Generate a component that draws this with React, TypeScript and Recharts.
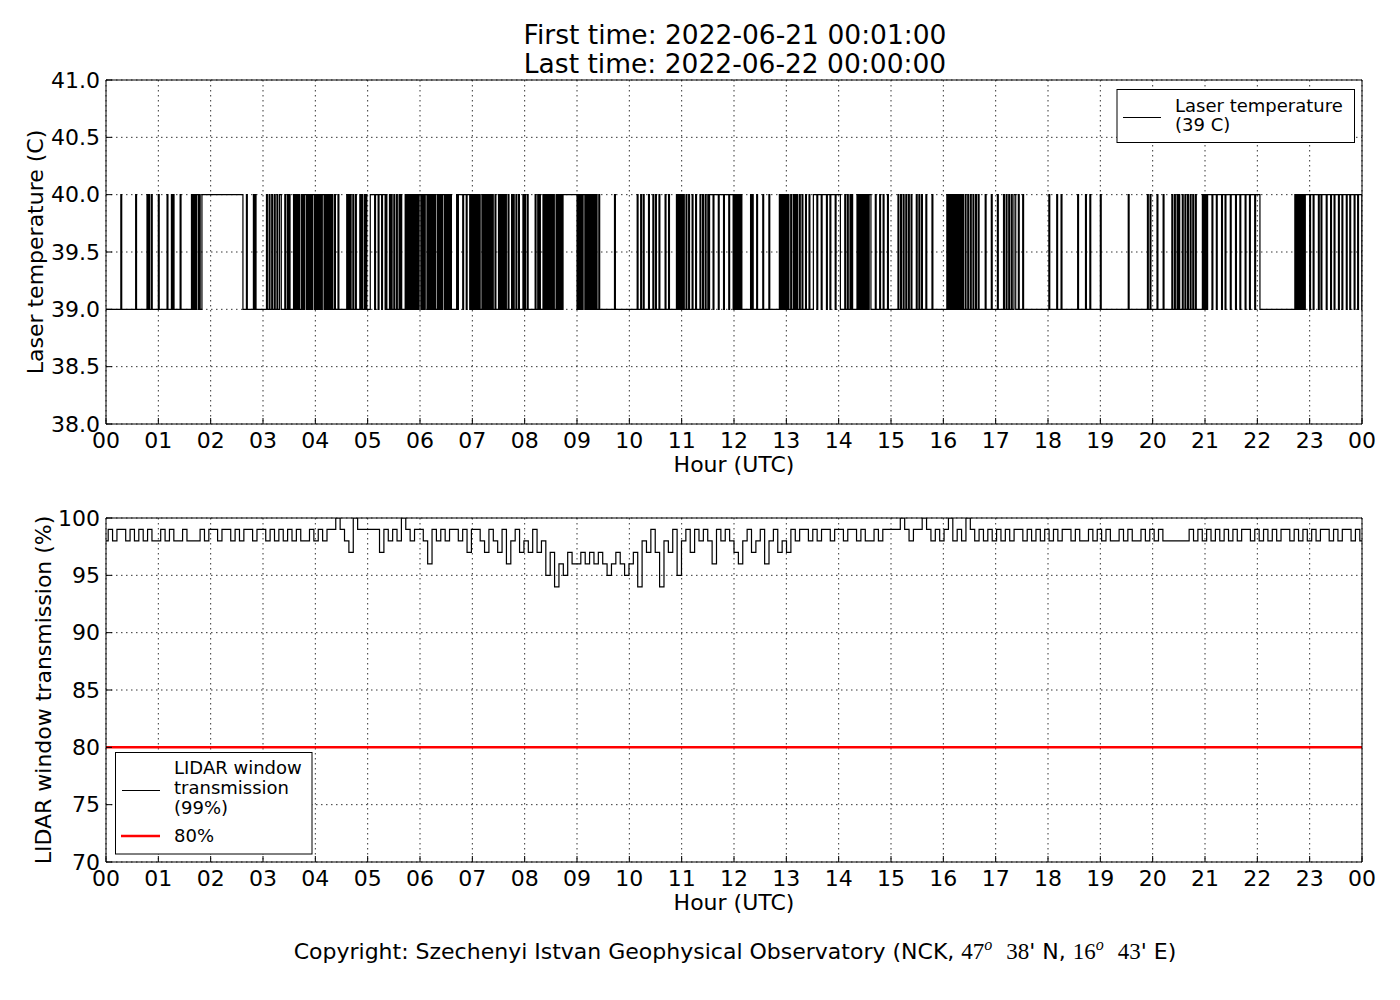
import React from 'react';
import { LineChart, Line, XAxis, YAxis, CartesianGrid, ReferenceLine } from 'recharts';

// ---------- data ----------
const HOUR_TICKS = [0, 1, 2, 3, 4, 5, 6, 7, 8, 9, 10, 11, 12, 13, 14, 15, 16, 17, 18, 19, 20, 21, 22, 23, 24];
const TEMP_TICKS = [38, 38.5, 39, 39.5, 40, 40.5, 41];
const TRANS_TICKS = [70, 75, 80, 85, 90, 95, 100];

const TEMP_LOW = 39;
const TEMP_HIGH = 40;
// periods (minutes after 00:00 UTC) where the laser temperature reads 40 C; otherwise 39 C
const TEMP_HIGH_MIN: [number, number][] = [
  [17, 18], [34, 35], [47, 48], [49, 50], [52, 53], [60, 61], [70, 71], [75, 76], [77, 78], [85, 86],
  [98, 99], [100, 101], [102, 103], [104, 106], [107, 108], [110, 157],
  [161, 162], [169, 170], [171, 172], [184, 185], [187, 188], [190, 191], [193, 194], [196, 197], [199, 201],
  [205, 206], [208, 209], [210, 211], [215, 216], [217, 218], [219, 220], [221, 222], [224, 225], [226, 227],
  [228, 230], [231, 232], [233, 234], [235, 236], [237, 239], [240, 241], [242, 243], [244, 245], [246, 247],
  [248, 250], [251, 252], [253, 254], [255, 256], [257, 258], [259, 260], [262, 263], [266, 267], [276, 277],
  [278, 279], [280, 281], [283, 284], [286, 287], [291, 292], [293, 294], [296, 297], [298, 299], [303, 308],
  [309, 312], [313, 316], [317, 320], [321, 322], [325, 326], [327, 328], [330, 331], [333, 334], [336, 337],
  [338, 339], [343, 344], [345, 346], [347, 348], [349, 350], [351, 352], [353, 354], [355, 356], [357, 358],
  [359, 361], [362, 363], [364, 365], [366, 368], [369, 370], [371, 372], [373, 374], [375, 376], [377, 378],
  [380, 381], [382, 383], [384, 385], [386, 388], [389, 390], [391, 392], [393, 394], [395, 396], [402, 403],
  [404, 409], [410, 413], [414, 417], [418, 419], [420, 421], [422, 423], [424, 425], [426, 427], [428, 429],
  [431, 432], [433, 434], [435, 436], [437, 438], [439, 440], [441, 442], [443, 444], [446, 447], [450, 451],
  [452, 453], [454, 455], [456, 457], [458, 459], [461, 462], [465, 466], [467, 468], [470, 471], [473, 474],
  [478, 479], [480, 481], [483, 484], [492, 493], [495, 496], [497, 498], [501, 502], [503, 504], [505, 506],
  [507, 508], [509, 510], [511, 512], [513, 514], [516, 517], [518, 519], [520, 521], [522, 523], [524, 540],
  [541, 542], [543, 544], [545, 546], [547, 549], [550, 551], [552, 553], [554, 555], [556, 557], [558, 559],
  [560, 561], [562, 563], [565, 566], [583, 584], [609, 610], [613, 614], [616, 617], [622, 623], [627, 628],
  [630, 631], [634, 635], [641, 642], [645, 646], [654, 655], [656, 657], [658, 659], [660, 661], [662, 663],
  [665, 666], [668, 669], [672, 673], [676, 677], [681, 682], [684, 685], [687, 688], [690, 691], [692, 696],
  [697, 702], [703, 708], [709, 714], [715, 719],
  [720, 721], [722, 723], [724, 725], [726, 727], [728, 729], [739, 740], [741, 742], [746, 747], [753, 754],
  [760, 761], [772, 773], [774, 775], [776, 777], [778, 779], [780, 781], [782, 783], [785, 786], [788, 789],
  [790, 791], [792, 793], [795, 796], [798, 799], [802, 803], [806, 807], [811, 815], [816, 820], [821, 826],
  [827, 830], [831, 836], [837, 842], [847, 848], [850, 851], [853, 854], [855, 856], [861, 862], [863, 864],
  [865, 866], [867, 868], [869, 870], [871, 872], [873, 874], [875, 877], [882, 883], [887, 888], [891, 892],
  [896, 897], [908, 909], [911, 912], [914, 915], [917, 918], [920, 921], [923, 924], [929, 930], [932, 933],
  [935, 936], [940, 941], [947, 948], [964, 965], [966, 967], [968, 969], [970, 971], [972, 973], [974, 975],
  [976, 977], [978, 979], [980, 981], [982, 983], [985, 986], [988, 989], [991, 992], [994, 995], [997, 998],
  [1000, 1001], [1008, 1009], [1015, 1016], [1022, 1023], [1029, 1030], [1032, 1033], [1035, 1036],
  [1038, 1039], [1041, 1043], [1046, 1047], [1051, 1052], [1081, 1082], [1090, 1091], [1095, 1096],
  [1114, 1115], [1123, 1124], [1128, 1129], [1140, 1141], [1172, 1173], [1194, 1195], [1197, 1198],
  [1205, 1206], [1212, 1213], [1222, 1223], [1225, 1226], [1228, 1229], [1230, 1231], [1234, 1235],
  [1237, 1238], [1240, 1241], [1243, 1244], [1246, 1247], [1249, 1250], [1257, 1258], [1259, 1260],
  [1261, 1262], [1263, 1268], [1269, 1273], [1274, 1279], [1280, 1283], [1284, 1289], [1290, 1295],
  [1296, 1300], [1301, 1306], [1307, 1311], [1312, 1317], [1318, 1323], [1363, 1364], [1365, 1366],
  [1367, 1368], [1369, 1370], [1371, 1372], [1373, 1374], [1375, 1380], [1381, 1384], [1385, 1390],
  [1391, 1393], [1394, 1399], [1400, 1404], [1405, 1408], [1409, 1413], [1414, 1417], [1418, 1422],
  [1423, 1426], [1427, 1431], [1432, 1435], [1436, 1440],
];

// LIDAR window transmission (%), one reading every 5 minutes, 00:00 -> 24:00
const TRANS_5MIN = [
  98, 99, 98, 99, 99, 98, 99, 98, 99, 98, 99, 98, // 00
  98, 99, 98, 99, 98, 98, 99, 98, 98, 98, 99, 98, // 01
  99, 99, 98, 99, 99, 98, 99, 98, 99, 99, 98, 99, // 02
  99, 98, 99, 98, 99, 98, 99, 98, 99, 98, 98, 99, // 03
  98, 99, 98, 99, 99, 100, 99, 98, 97, 100, 99, 99, // 04
  99, 99, 99, 97, 99, 98, 99, 98, 100, 99, 98, 99, // 05
  99, 98, 96, 99, 98, 99, 98, 99, 99, 98, 99, 97, // 06
  99, 99, 98, 97, 99, 98, 97, 99, 96, 98, 99, 97, // 07
  98, 97, 99, 97, 98, 95, 97, 94, 96, 95, 97, 96, // 08
  96, 97, 96, 97, 96, 97, 96, 95, 96, 97, 96, 95, // 09
  96, 97, 94, 98, 97, 99, 97, 94, 98, 97, 99, 95, // 10
  98, 99, 97, 99, 98, 99, 98, 96, 99, 98, 99, 98, // 11
  97, 96, 98, 99, 97, 98, 99, 96, 98, 99, 97, 98, // 12
  97, 99, 98, 99, 99, 98, 99, 98, 99, 99, 98, 99, // 13
  99, 98, 99, 99, 98, 99, 98, 98, 99, 98, 99, 99, // 14
  99, 99, 100, 99, 98, 99, 99, 100, 99, 98, 99, 98, // 15
  99, 100, 98, 99, 98, 100, 99, 98, 99, 98, 99, 98, // 16
  99, 98, 99, 98, 99, 99, 98, 99, 98, 99, 98, 99, // 17
  98, 99, 98, 99, 99, 98, 99, 98, 98, 99, 98, 99, // 18
  98, 99, 98, 98, 99, 98, 99, 98, 98, 99, 98, 99, // 19
  98, 99, 98, 98, 98, 98, 98, 98, 99, 98, 99, 98, // 20
  99, 98, 99, 98, 99, 98, 99, 98, 99, 99, 98, 99, // 21
  98, 99, 98, 99, 98, 99, 99, 98, 99, 98, 99, 98, // 22
  99, 98, 99, 99, 98, 99, 98, 99, 99, 98, 99, 98, // 23
];
const THRESHOLD = 80;

// ---------- build tables for the library ----------
const tempData: { t: number; v: number }[] = [{ t: 0, v: TEMP_LOW }];
for (const [s, e] of TEMP_HIGH_MIN) {
  tempData.push({ t: s / 60, v: TEMP_LOW }, { t: s / 60, v: TEMP_HIGH }, { t: e / 60, v: TEMP_HIGH }, { t: e / 60, v: TEMP_LOW });
}
const transData = TRANS_5MIN.map((v, i) => ({ t: (i * 24) / (TRANS_5MIN.length - 1), v }));

const FONT = "'DejaVu Sans', sans-serif";
const SERIF = "'Liberation Serif', serif";
const tickStyle = { fill: '#000', fontSize: 22, fontFamily: FONT };
const hourFmt = (v: number) => String(v % 24).padStart(2, '0');

function Panel({ data, domain, ticks, fmt, lineType, children }: any) {
  return (
    <LineChart width={1400} height={500} data={data} margin={{ top: 79, right: 37, left: 0, bottom: 0 }}>
      <CartesianGrid stroke="#000" strokeWidth={0.8} strokeDasharray="1.5 3.5" />
      <XAxis
        dataKey="t"
        type="number"
        domain={[0, 24]}
        ticks={HOUR_TICKS}
        interval={0}
        allowDataOverflow
        height={76}
        tickSize={-6}
        tickMargin={14}
        tickFormatter={hourFmt}
        tick={tickStyle}
        axisLine={{ stroke: '#000' }}
        tickLine={{ stroke: '#000' }}
      />
      <XAxis
        xAxisId="top"
        orientation="top"
        type="number"
        domain={[0, 24]}
        ticks={HOUR_TICKS}
        interval={0}
        allowDataOverflow
        height={1}
        tickSize={-6}
        tick={false}
        axisLine={{ stroke: '#000' }}
        tickLine={{ stroke: '#000' }}
      />
      <YAxis
        type="number"
        domain={domain}
        ticks={ticks}
        interval={0}
        allowDataOverflow
        width={106}
        tickSize={-6}
        tickMargin={12}
        tickFormatter={fmt}
        tick={tickStyle}
        axisLine={{ stroke: '#000' }}
        tickLine={{ stroke: '#000' }}
      />
      <YAxis
        yAxisId="right"
        orientation="right"
        type="number"
        domain={domain}
        ticks={ticks}
        interval={0}
        allowDataOverflow
        width={1}
        tickSize={-6}
        tick={false}
        axisLine={{ stroke: '#000' }}
        tickLine={{ stroke: '#000' }}
      />
      {children}
      <Line dataKey="v" type={lineType} stroke="#000" strokeWidth={1.2} dot={false} isAnimationActive={false} />
    </LineChart>
  );
}

export default function App() {
  return (
    <div style={{ position: 'absolute', left: 0, top: 0, width: 1400, height: 1000, background: '#fff', overflow: 'hidden' }}>
      <div style={{ position: 'absolute', left: 0, top: 0 }}>
        <Panel data={tempData} domain={[38, 41]} ticks={TEMP_TICKS} fmt={(v: number) => v.toFixed(1)} lineType="linear" />
      </div>
      <div style={{ position: 'absolute', left: 0, top: 438 }}>
        <Panel data={transData} domain={[70, 100]} ticks={TRANS_TICKS} fmt={(v: number) => String(v)} lineType="step">
          <ReferenceLine y={THRESHOLD} stroke="#ff0000" strokeWidth={2.5} ifOverflow="visible" />
        </Panel>
      </div>
      <svg width={1400} height={1000} style={{ position: 'absolute', left: 0, top: 0, pointerEvents: 'none' }} fontFamily={FONT}>
        <text x={735} y={44} textAnchor="middle" fontSize={26.5} fill="#000">First time: 2022-06-21 00:01:00</text>
        <text x={735} y={73} textAnchor="middle" fontSize={26.5} fill="#000">Last time: 2022-06-22 00:00:00</text>

        <text x={43} y={252} textAnchor="middle" fontSize={22} fill="#000" transform="rotate(-90 43 252)">Laser temperature (C)</text>
        <text x={734} y={472} textAnchor="middle" fontSize={22} fill="#000">Hour (UTC)</text>

        <text x={51} y={690} textAnchor="middle" fontSize={22} fill="#000" transform="rotate(-90 51 690)">LIDAR window transmission (%)</text>
        <text x={734} y={910} textAnchor="middle" fontSize={22} fill="#000">Hour (UTC)</text>

        {/* legend, top panel */}
        <rect x={1117} y={89.5} width={237.5} height={53} fill="#fff" stroke="#000" strokeWidth={1} />
        <line x1={1123} x2={1161} y1={117.5} y2={117.5} stroke="#000" strokeWidth={1} />
        <text x={1175} y={111.5} fontSize={18} fill="#000">Laser temperature</text>
        <text x={1175} y={131} fontSize={18} fill="#000">(39 C)</text>

        {/* legend, bottom panel */}
        <rect x={115.5} y={752.5} width={196.5} height={101.5} fill="#fff" stroke="#000" strokeWidth={1} />
        <line x1={122} x2={160} y1={790.5} y2={790.5} stroke="#000" strokeWidth={1} />
        <text x={174} y={773.5} fontSize={18} fill="#000">LIDAR window</text>
        <text x={174} y={794} fontSize={18} fill="#000">transmission</text>
        <text x={174} y={814} fontSize={18} fill="#000">(99%)</text>
        <line x1={121} x2={160} y1={836} y2={836} stroke="#ff0000" strokeWidth={2.5} />
        <text x={174} y={842} fontSize={18} fill="#000">80%</text>

        <text x={735} y={959} textAnchor="middle" fontSize={22} fill="#000">
          Copyright: Szechenyi Istvan Geophysical Observatory (NCK,
          <tspan fontFamily={SERIF} fontSize={23} dx={7}>47</tspan>
          <tspan fontFamily={SERIF} fontStyle="italic" fontSize={16} dy={-9}>o</tspan>
          <tspan fontFamily={SERIF} fontSize={23} dy={9} dx={14}>38</tspan>
          <tspan>' N,</tspan>
          <tspan fontFamily={SERIF} fontSize={23} dx={7}>16</tspan>
          <tspan fontFamily={SERIF} fontStyle="italic" fontSize={16} dy={-9}>o</tspan>
          <tspan fontFamily={SERIF} fontSize={23} dy={9} dx={14}>43</tspan>
          <tspan>' E)</tspan>
        </text>
      </svg>
    </div>
  );
}
